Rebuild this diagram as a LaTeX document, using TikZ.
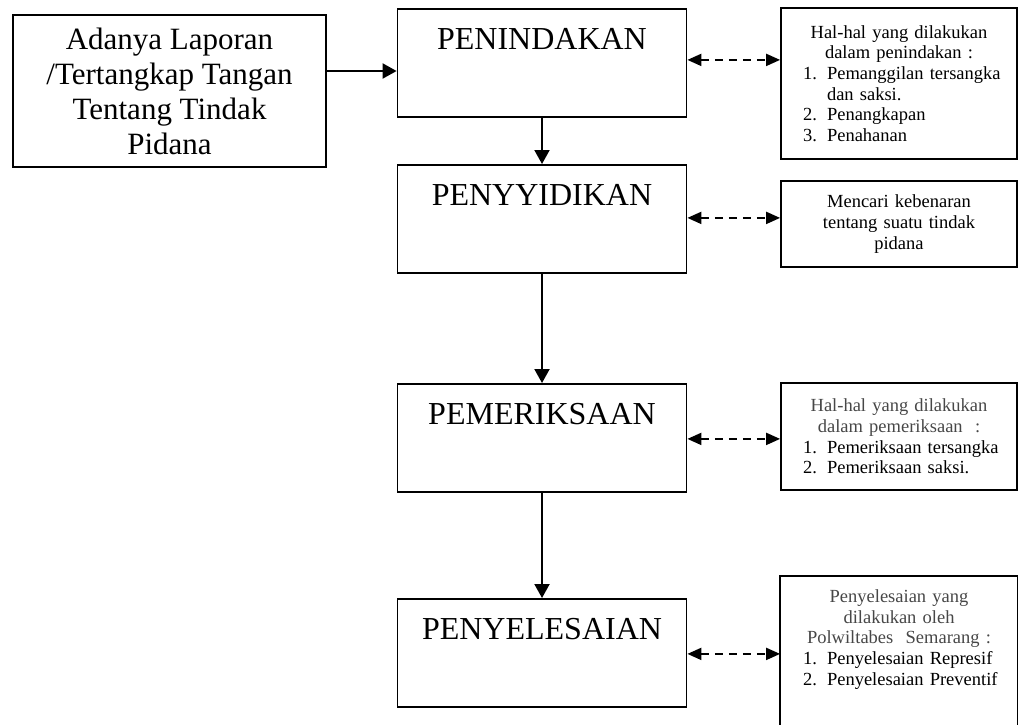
\documentclass[tikz,border=0pt]{standalone}
\usepackage{fontspec}
\setmainfont{Liberation Serif}
\usetikzlibrary{arrows.meta}
\newcommand{\ctrline}[1]{\makebox[236pt]{#1}}
\newcommand{\numitem}[1]{\hspace*{22pt}\makebox[24pt][l]{#1}}
\begin{document}
\begin{tikzpicture}[x=1pt,y=-1pt,
  mainbox/.style={draw, line width=1.8pt, minimum width=289pt, inner sep=0pt,
    text height=41pt, text depth=67pt, font=\fontsize{32}{35}\selectfont, anchor=north},
  startbox/.style={draw, line width=1.8pt, minimum width=313pt, minimum height=152pt,
    inner sep=0pt, align=center, font=\fontsize{31}{35}\selectfont},
  notebox/.style={draw, line width=1.8pt, text width=236pt, inner sep=0pt, align=left,
    font=\fontsize{18.5}{20.6}\selectfont},
  flowarrow/.style={line width=2pt, -{Triangle[length=14pt,width=15pt]}},
  dasharrow/.style={line width=2pt, dash pattern=on 8pt off 6pt,
    {Triangle[length=14pt,width=12pt]}-{Triangle[length=14pt,width=12pt]}}
]
\clip (0,0) rectangle (1018,724);

% left start box
\node[startbox] (start) at (169.5,91) {Adanya Laporan\\/Tertangkap Tangan\\Tentang Tindak\\Pidana};

% main column
\node[mainbox] (p1) at (542,8) {PENINDAKAN};
\node[mainbox] (p2) at (542,164) {PENYYIDIKAN};
\node[mainbox] (p3) at (542,383) {PEMERIKSAAN};
\node[mainbox] (p4) at (542,598) {PENYELESAIAN};

% right note boxes
\node[notebox, minimum height=151pt] (r1) at (899,83.5) {%
\ctrline{Hal-hal yang dilakukan}\\
\ctrline{dalam penindakan :}\\
\numitem{1.}Pemanggilan tersangka\\
\hspace*{46pt}dan saksi.\\
\numitem{2.}Penangkapan\\
\numitem{3.}Penahanan};

\node[notebox, minimum height=86pt] (r2) at (899,224) {%
\ctrline{Mencari kebenaran}\\
\ctrline{tentang suatu tindak}\\
\ctrline{pidana}};

\node[notebox, minimum height=107pt] (r3) at (899,436.5) {%
\ctrline{\color{black!72}Hal-hal yang dilakukan}\\
\ctrline{\color{black!72}dalam pemeriksaan\ \ :}\\
\numitem{1.}Pemeriksaan tersangka\\
\numitem{2.}Pemeriksaan saksi.};

\node[notebox, draw=none, minimum height=125pt] (r4) at (899,639.5) {%
\ctrline{\color{black!72}Penyelesaian yang}\\
\ctrline{\color{black!72}dilakukan oleh}\\
\ctrline{\color{black!72}Polwiltabes\ \ Semarang :}\\
\numitem{1.}Penyelesaian Represif\\
\numitem{2.}Penyelesaian Preventif};
\draw[line width=1.8pt] ([yshift=-80pt]r4.south west) -- (r4.north west) -- (r4.north east) -- ([yshift=-80pt]r4.south east);

% connectors
\draw[flowarrow] ([yshift=20pt]start.east) -- ([yshift=20pt]start.east -| p1.west);
\draw[flowarrow] (p1) -- (p2);
\draw[flowarrow] (p2) -- (p3);
\draw[flowarrow] (p3) -- (p4);

\draw[dasharrow] ([yshift=3pt]p1.east) -- ([yshift=3pt]p1.east -| r1.west);
\draw[dasharrow] ([yshift=1pt]p2.east) -- ([yshift=1pt]p2.east -| r2.west);
\draw[dasharrow] ([yshift=-1pt]p3.east) -- ([yshift=-1pt]p3.east -| r3.west);
\draw[dasharrow] ([yshift=-1pt]p4.east) -- ([yshift=-1pt]p4.east -| r4.west);
\end{tikzpicture}
\end{document}
